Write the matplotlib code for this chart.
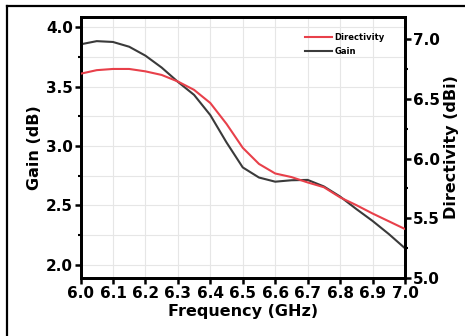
import matplotlib
matplotlib.use("Agg")
import matplotlib.pyplot as plt
from matplotlib.lines import Line2D
from matplotlib.ticker import MultipleLocator

plt.rcParams['font.family'] = ['DejaVu Sans']
plt.rcParams['font.weight'] = 'bold'

freq = [6.00, 6.05, 6.10, 6.15, 6.20, 6.25, 6.30, 6.35, 6.40, 6.45, 6.50,
        6.55, 6.60, 6.65, 6.70, 6.75, 6.80, 6.85, 6.90, 6.95, 7.00]
gain = [3.855, 3.882, 3.875, 3.835, 3.76, 3.66, 3.54, 3.43, 3.26, 3.03, 2.82,
        2.735, 2.70, 2.712, 2.715, 2.66, 2.575, 2.47, 2.37, 2.26, 2.14]
directivity = [6.71, 6.74, 6.75, 6.75, 6.73, 6.70, 6.645, 6.575, 6.465, 6.29, 6.09,
               5.955, 5.875, 5.845, 5.80, 5.76, 5.675, 5.61, 5.54, 5.475, 5.41]
xticks = [6.0, 6.1, 6.2, 6.3, 6.4, 6.5, 6.6, 6.7, 6.8, 6.9, 7.0]
gain_ticks = [2.0, 2.5, 3.0, 3.5, 4.0]
dir_ticks = [5.0, 5.5, 6.0, 6.5, 7.0]

W, H = 465, 336
fig = plt.figure(figsize=(W / 100, H / 100), dpi=100)
fig.patch.set_facecolor('white')
ax = fig.add_axes([80.5 / W, 1 - 278 / H, (405 - 80.5) / W, (278 - 17) / H])
ax2 = ax.twinx()

red = '#e8404a'
dark = '#3a3a3a'

ax.plot(freq, gain, color=dark, lw=1.5, label='Gain', zorder=3)
ax2.plot(freq, directivity, color=red, lw=1.5, label='Directivity', zorder=3)

ax.set_xlim(6.0, 7.0)
ax.set_ylim(1.89, 4.085)
ax2.set_ylim(5.0, 7.185)

ax.set_xticks(xticks)
ax.set_xticklabels([f'{t:.1f}' for t in xticks])
ax.set_yticks(gain_ticks)
ax.set_yticklabels([f'{t:.1f}' for t in gain_ticks])
ax2.set_yticks(dir_ticks)
ax2.set_yticklabels([f'{t:.1f}' for t in dir_ticks])
ax.yaxis.set_minor_locator(MultipleLocator(0.25))
ax2.yaxis.set_minor_locator(MultipleLocator(0.25))

ax.grid(True, which='major', axis='x', color='#e6e6e6', lw=0.8)
ax.grid(True, which='both', axis='y', color='#e6e6e6', lw=0.8)

for a in (ax, ax2):
    for s in a.spines.values():
        s.set_linewidth(2.0)
    a.tick_params(which='major', direction='out', length=4, width=1.8,
                  labelsize=11, pad=1.5)
    a.tick_params(which='minor', direction='out', length=2.5, width=1.5)
ax.tick_params(axis='x', pad=2)

ax.set_xlabel('Frequency (GHz)', fontsize=11.5, fontweight='bold', labelpad=2)
ax.set_ylabel('Gain (dB)', fontsize=11.5, fontweight='bold', labelpad=3)
ax2.set_ylabel('Directivity (dBi)', fontsize=11.5, fontweight='bold', labelpad=3)

handles = [Line2D([], [], color=red, lw=1.5), Line2D([], [], color=dark, lw=1.5)]
ax.legend(handles, ['Directivity', 'Gain'], loc='upper left',
          bbox_to_anchor=((305 - 80.5) / 324.5, (278 - 33) / 261), frameon=False,
          prop={'size': 6, 'weight': 'bold'}, handlelength=3.2,
          handletextpad=0.35, labelspacing=0.55, borderaxespad=0, borderpad=0)

# outer frame lines (left and top)
fig.add_artist(Line2D([7 / W, 7 / W], [0, 1 - 6 / H], color='black', lw=1.6,
                      transform=fig.transFigure))
fig.add_artist(Line2D([7 / W, 1], [1 - 6 / H, 1 - 6 / H], color='black', lw=1.6,
                      transform=fig.transFigure))

fig.savefig('out.png', dpi=100)
